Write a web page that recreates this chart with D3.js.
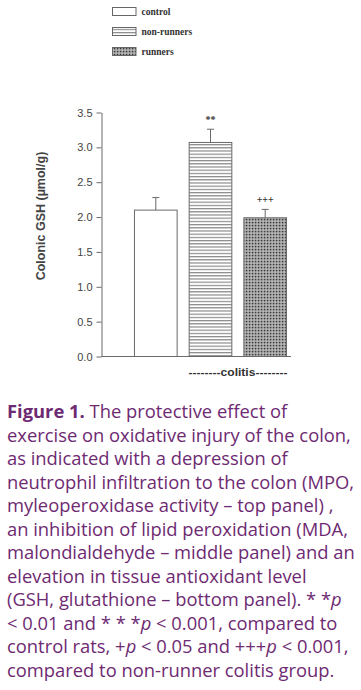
<!DOCTYPE html>
<html><head><meta charset="utf-8">
<script src="https://cdn.jsdelivr.net/npm/d3@7/dist/d3.min.js"></script>
<style>body{margin:0;background:#fff}svg{display:block}</style>
</head><body>
<script>
const groups = ["control", "non-runners", "runners"];
const means = [2.1, 3.07, 1.99];
const errs = [0.18, 0.19, 0.12];
const sigLabels = ["", "**", "+++"];
const yTicks = [0.0, 0.5, 1.0, 1.5, 2.0, 2.5, 3.0, 3.5];
const yLabel = "Colonic GSH (µmol/g)";
const xLabel = "--------colitis--------";
const captionBold = "Figure 1.";
const captionLines = [
  " The protective effect of",
  "exercise on oxidative injury of the colon,",
  "as indicated with a depression of",
  "neutrophil infiltration to the colon (MPO,",
  "myleoperoxidase activity – top panel) ,",
  "an inhibition of lipid peroxidation (MDA,",
  "malondialdehyde – middle panel) and an",
  "elevation in tissue antioxidant level",
  "(GSH, glutathione – bottom panel). * *p",
  "< 0.01 and * * *p < 0.001, compared to",
  "control rats, +p < 0.05 and +++p < 0.001,",
  "compared to non-runner colitis group."
];

const W = 361, H = 690;
const svg = d3.select("body").append("svg").attr("width", W).attr("height", H);
const defs = svg.append("defs");
const ph = defs.append("pattern").attr("id","hstripe").attr("patternUnits","userSpaceOnUse").attr("width",4).attr("height",3.2);
ph.append("rect").attr("width",4).attr("height",3.2).attr("fill","#fff");
ph.append("rect").attr("y",0).attr("width",4).attr("height",1.2).attr("fill","#8a8a8a");
const pd = defs.append("pattern").attr("id","dots").attr("patternUnits","userSpaceOnUse").attr("width",3).attr("height",3);
pd.append("rect").attr("width",3).attr("height",3).attr("fill","#9a9a9a");
pd.append("rect").attr("x",0).attr("y",0).attr("width",1.2).attr("height",1.2).attr("fill","#3a3a3a");
pd.append("rect").attr("x",1.5).attr("y",1.5).attr("width",1.2).attr("height",1.2).attr("fill","#d8d8d8");
const fills = ["#fff", "url(#hstripe)", "url(#dots)"];

const axisColor = "#6a6a6a";
const y = d3.scaleLinear().domain([0, 3.5]).range([356.5, 112.5]);
const x = d3.scaleBand().domain(groups).range([129, 292]).paddingInner(0.22).paddingOuter(0.1);

// axes
const yAxis = svg.append("g").attr("transform","translate(101.5,0)")
  .call(d3.axisLeft(y).tickValues(yTicks).tickFormat(d3.format(".1f")).tickSize(5).tickSizeOuter(0));
yAxis.select(".domain").attr("stroke",axisColor);
yAxis.selectAll(".tick line").attr("stroke",axisColor);
yAxis.selectAll(".tick text").attr("fill","#444").attr("font-family","Liberation Sans, Arial, sans-serif").attr("font-size",11).attr("dx",-1);
svg.append("line").attr("x1",101.5).attr("x2",291).attr("y1",y(0)).attr("y2",y(0)).attr("stroke",axisColor);

// bars
const bars = svg.append("g");
groups.forEach((g,i)=>{
  const bx = x(g), bw = x.bandwidth();
  bars.append("line").attr("x1",bx+bw/2).attr("x2",bx+bw/2).attr("y1",y(means[i])).attr("y2",y(means[i]+errs[i])).attr("stroke",axisColor);
  bars.append("line").attr("x1",bx+bw/2-3.5).attr("x2",bx+bw/2+3.5).attr("y1",y(means[i]+errs[i])).attr("y2",y(means[i]+errs[i])).attr("stroke",axisColor);
  bars.append("rect").attr("x",bx).attr("y",y(means[i])).attr("width",bw).attr("height",y(0)-y(means[i]))
    .attr("fill",fills[i]).attr("stroke",axisColor).attr("stroke-width",1);
  if (sigLabels[i]) {
    bars.append("text").attr("x",bx+bw/2).attr("y",y(means[i]+errs[i])-6).attr("text-anchor","middle")
      .attr("font-family","Liberation Serif, serif").attr("font-weight","bold").attr("font-size",10).attr("fill","#333").text(sigLabels[i]);
  }
});

svg.append("text").attr("x",238).attr("y",376).attr("text-anchor","middle")
  .attr("font-family","Liberation Sans, Arial, sans-serif").attr("font-weight","bold").attr("font-size",11)
  .attr("textLength",99).attr("lengthAdjust","spacingAndGlyphs").attr("fill","#333").text(xLabel);

svg.append("text").attr("transform","translate(45,216) rotate(-90)").attr("text-anchor","middle")
  .attr("font-family","Liberation Sans, Arial, sans-serif").attr("font-weight","bold").attr("font-size",12.5).attr("fill","#444").text(yLabel);

// legend
const leg = svg.append("g");
groups.forEach((g,i)=>{
  const ly = 7.5 + i*20;
  leg.append("rect").attr("x",112.5).attr("y",ly).attr("width",23.5).attr("height",8).attr("fill",fills[i]).attr("stroke","#666");
  leg.append("text").attr("x",141.5).attr("y",ly+7.5).attr("font-family","Liberation Serif, serif").attr("font-weight","bold").attr("font-size",9.5).attr("fill","#333").text(g);
});

// caption
const cap = svg.append("g").attr("font-family","Open Sans, sans-serif").attr("fill","#6e2a72");
let fs = 17;
const t0 = 418, lh = 23.5;
const texts = captionLines.map((l,i)=>{
  const t = cap.append("text").attr("x",7).attr("y",t0+i*lh).attr("font-size",fs);
  if (i===0) { t.append("tspan").attr("font-weight","bold").text(captionBold); }
  const parts = l.split(/(p)(?= ?<|$)/);
  parts.forEach(p=>{ const s=t.append("tspan").text(p); if(p==="p") s.attr("font-style","italic"); });
  return t;
});
const maxW = d3.max(texts, t=>t.node().getComputedTextLength());
const nfs = fs * 348 / maxW;
texts.forEach(t=>t.attr("font-size",nfs));
</script>
</body></html>
